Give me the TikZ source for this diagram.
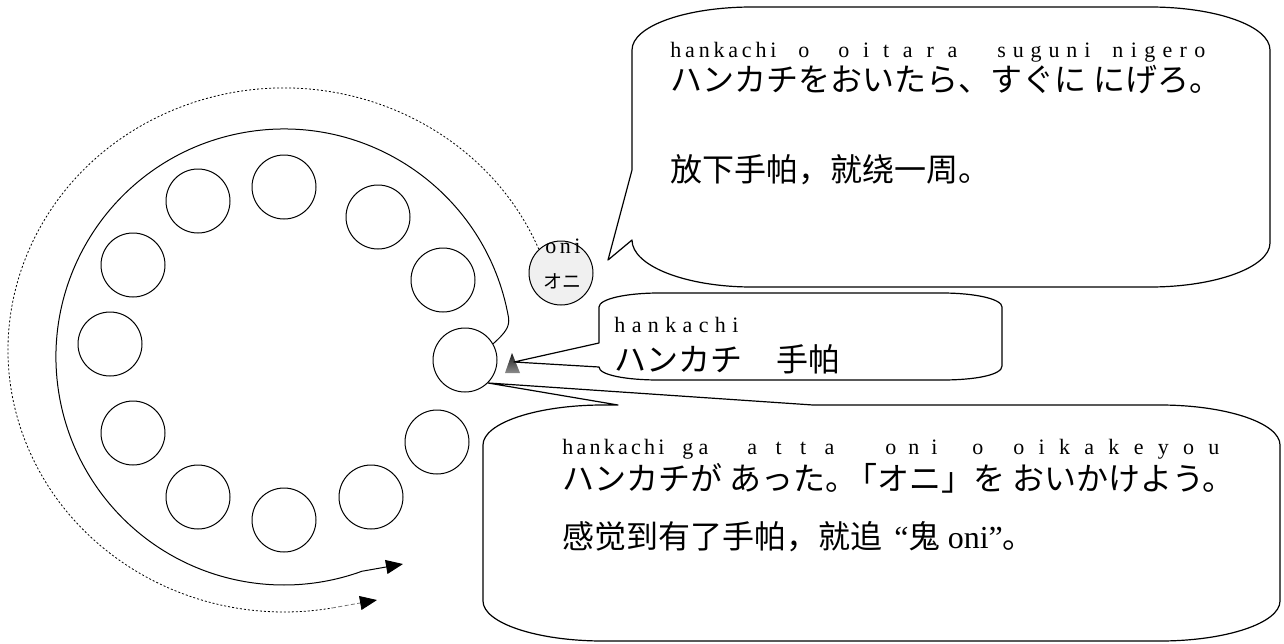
\documentclass[tikz,border=0pt]{standalone}
\usepackage{fontspec}
\setmainfont{Liberation Serif}
\newfontfamily\jpfont{Noto Sans CJK JP}
\newfontfamily\scfont{Noto Sans CJK SC}
\usepackage{tikz}
\usetikzlibrary{arrows.meta, calc}
\newcommand\rjspread[2]{\makebox[#1][s]{\spaceskip=0pt plus 1fil\relax #2}}

\begin{document}
\begin{tikzpicture}[x=0.5pt, y=-0.5pt,
    seat/.style={draw, circle, line width=0.5pt, minimum size=32pt, inner sep=0pt},
    oni/.style={draw, circle, line width=0.5pt, fill=black!6, minimum size=32pt, inner sep=0pt},
    callout/.style={draw, line width=0.6pt, fill=white, line join=round},
    romaji/.style={font=\fontsize{11}{13}\selectfont, anchor=base west, inner sep=0pt},
    jptext/.style={font=\jpfont\fontsize{16}{19}\selectfont, anchor=west, inner sep=0pt},
    zhtext/.style={font=\scfont\fontsize{16}{19}\selectfont, anchor=west, inner sep=0pt},
    chase/.style={-{Triangle[length=8.5pt,width=7pt,color=black]}}]
        \useasboundingbox (0,0) rectangle (1284,643);

        % Nodes
        \foreach \i/\px/\py in {1/284/187, 2/198/201, 3/378/217, 4/133/265, 5/443/280, 6/110/344,
                                7/465/360, 8/133/433, 9/437/442, 10/198/497, 11/371/497, 12/284/520}
            \node[seat] (p\i) at (\px,\py) {};
        \node[oni] (oni) at (561,273) {};
        \node[romaji] (oniRj) at (545,253) {\rjspread{17.5pt}{o n i}};
        \node[font=\jpfont\fontsize{9.5}{10}\selectfont, inner sep=0pt] (oniJp) at (562,281) {オニ};

        % Handkerchief
        \shade[top color=black!90, bottom color=black!45] (505,373) -- (512,353) -- (520,373) -- cycle;
        \coordinate (hk) at (514,362);
        \coordinate (runTip) at (403,564);
        \coordinate (chaseTip) at (377,600);

        % Arrows
        \draw[line width=0.4pt, dash pattern=on 1pt off 1pt] (oni.133) -- (538.1,247.6)
            arc[start angle=-23, end angle=-280, x radius=276, y radius=262] coordinate (chaseEnd);
        \draw[line width=0.4pt, black!55, dash pattern=on 2pt off 1.2pt, chase] (chaseEnd) -- (chaseTip);
        \draw[line width=0.5pt] (p7.30) .. controls (505,333) and (510,327) .. (508.5,317.4)
            arc[start angle=-10, end angle=-290, radius=228] coordinate (runEnd);
        \draw[line width=0.5pt, chase] (runEnd) -- (runTip);

        % Callouts
        \draw[callout] (632,170) -- (608,260) -- (632,240)
            .. controls (632,266) and (686,287) .. (752,287) -- (1150,287)
            .. controls (1216,287) and (1270,267) .. (1270,243) -- (1270,50)
            .. controls (1270,26) and (1216,7) .. (1150,7) -- (752,7)
            .. controls (686,7) and (632,26) .. (632,50) -- cycle;
        \draw[callout] (599,343) -- (hk) -- (599,367)
            .. controls (599,375) and (626,380) .. (659,380) -- (942,380)
            .. controls (975,380) and (1002,375) .. (1002,366) -- (1002,307)
            .. controls (1002,299) and (975,293) .. (942,293) -- (659,293)
            .. controls (626,293) and (599,299) .. (599,307) -- cycle;
        \draw[callout] (618,405) -- (p7.-45) -- (813,405) -- (1160,405)
            .. controls (1226,405) and (1280,423) .. (1280,445) -- (1280,601)
            .. controls (1280,623) and (1226,641) .. (1160,641) -- (603,641)
            .. controls (537,641) and (483,623) .. (483,601) -- (483,445)
            .. controls (483,423) and (537,405) .. (603,405) -- cycle;

        % Top callout text
        \node[romaji] (putA) at (670,57) {\rjspread{53pt}{h a n k a c h i}};
        \node[romaji] (putB) at (798,57) {o};
        \node[romaji] (putC) at (838,57) {\rjspread{59.5pt}{o i t a r a}};
        \node[romaji] (putD) at (997,57) {\rjspread{46.5pt}{s u g u n i}};
        \node[romaji] (putE) at (1112,57) {\rjspread{46.5pt}{n i g e r o}};
        \node[jptext] (putJp) at (670,80) {ハンカチをおいたら、すぐに にげろ。};
        \node[zhtext] (putZh) at (670,170) {放下手帕，就绕一周。};

        % Middle callout text
        \node[romaji] (hkRj) at (614,332) {\rjspread{62pt}{h a n k a c h i}};
        \node[jptext] (hkJp) at (614,359) {ハンカチ\hspace{17pt}{\scfont 手帕}};

        % Bottom callout text
        \node[romaji] (gotA) at (562,454) {\rjspread{51pt}{h a n k a c h i}};
        \node[romaji] (gotB) at (682,454) {\rjspread{13pt}{g a}};
        \node[romaji] (gotC) at (747,454) {\rjspread{43.5pt}{a t t a}};
        \node[romaji] (gotD) at (885,454) {\rjspread{26pt}{o n i}};
        \node[romaji] (gotE) at (972,454) {o};
        \node[romaji] (gotF) at (1013,454) {\rjspread{103pt}{o i k a k e y o u}};
        \node[jptext] (gotJp) at (562,478) {ハンカチが あった。\hspace{-6pt}「オニ」を おいかけよう。};
        \node[zhtext] (gotZh) at (562,537) {感觉到有了手帕，就追\hspace{6pt}{\rmfamily “}鬼 {\rmfamily oni”}。};
    \end{tikzpicture}
\end{document}
